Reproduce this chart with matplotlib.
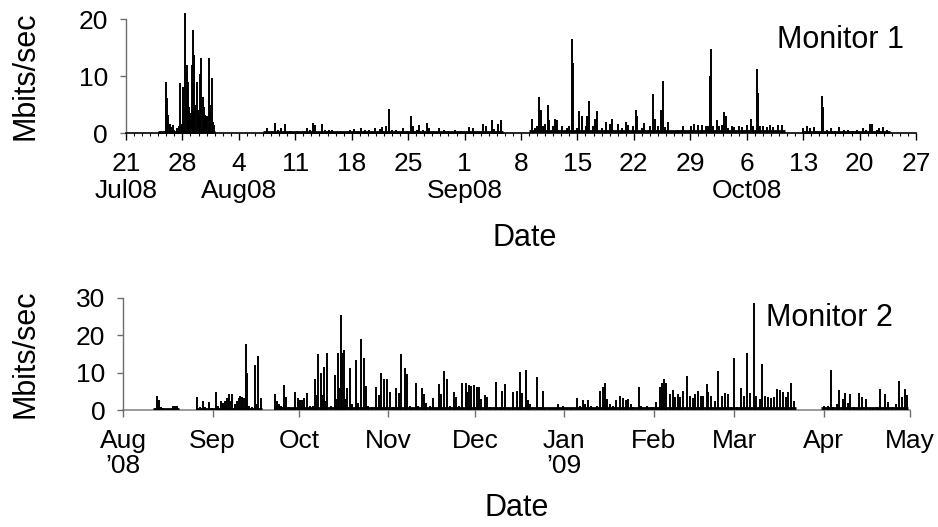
import matplotlib
matplotlib.use("Agg")
import matplotlib.pyplot as plt
import matplotlib.dates as mdates
import matplotlib.ticker as mticker
from datetime import datetime

plt.rcParams['font.family'] = ['Liberation Sans', 'DejaVu Sans']

# ---------------- Monitor 1 (days since 21 Jul 2008) ----------------
m1_origin = datetime(2008, 7, 21)
m1_end = datetime(2008, 10, 27)
m1_days = [
    4.93, 5.05, 5.25, 5.46, 5.6, 5.79, 6.0, 6.29, 6.54, 6.70, 6.9, 7.11, 7.32, 7.53,
    7.65, 7.8, 7.94, 8.05, 8.15, 8.35, 8.47, 8.6, 8.77, 8.9, 9.05, 9.18, 9.34, 9.51,
    9.65, 9.76, 9.93, 10.1, 10.26, 10.4, 10.63, 10.8, 10.92,
    17.45, 18.5, 18.8, 19.2, 19.7, 20.4, 21.2, 22.4, 22.8, 23.2, 23.5, 24.3, 24.7,
    25.2, 25.6, 26.5, 27.8, 28.3, 29.2, 29.6, 30.2, 30.9, 31.5, 31.8, 32.3, 32.6,
    33.0, 33.5, 34.3, 34.8, 35.3, 35.6, 36.1, 36.4, 36.8, 37.3, 37.6, 38.2, 38.8,
    39.4, 40.0, 40.8, 41.6, 42.5, 43.0, 43.6, 44.3, 44.6, 45.4, 45.6, 46.2, 46.5,
    50.33, 50.74, 51.03, 51.28, 51.49, 51.78, 52.03, 52.32, 52.52, 52.94, 53.23,
    53.44, 54.06, 54.68, 55.00, 55.33, 55.42, 55.92, 56.20, 56.54, 57.07, 57.16,
    57.41, 57.90, 58.15, 58.40, 59.02, 59.55, 60.05, 60.34, 61.08, 61.50, 62.03,
    62.32, 62.94, 63.24, 63.44, 63.98, 64.27, 65.01, 65.42, 65.63, 66.04, 66.34,
    66.59, 66.87, 67.28, 67.70, 68.53, 69.07, 70.06, 70.47, 71.01, 71.50, 71.96,
    72.25, 72.50, 72.58, 72.87, 73.29, 73.61, 73.98, 74.23, 74.44, 74.73, 75.15,
    75.43, 76.09, 76.39, 77.01, 77.54, 77.75, 78.33, 78.37, 78.66, 79.07, 79.49,
    79.90, 80.23, 80.93, 81.35,
    84.04, 84.45, 84.86, 85.40, 85.69, 86.31, 86.51, 87.01, 87.47, 87.97, 88.50,
    89.08, 89.62, 90.16, 90.65, 91.40, 91.81, 92.31, 92.56, 93.14, 93.46, 93.96,
    94.38,
]
m1_mbps = [
    8.9, 6.1, 3.2, 1.6, 1.0, 1.4, 0.6, 0.8, 1.3, 8.7, 1.5, 8.0, 21.0, 11.9,
    9.0, 4.5, 2.1, 3.5, 12.0, 18.1, 13.7, 5.0, 9.0, 4.0, 3.0, 10.4, 13.1, 6.3,
    4.5, 3.2, 3.0, 3.0, 13.1, 5.0, 9.7, 2.0, 1.4,
    0.8, 1.8, 0.5, 0.8, 1.5, 0.4, 0.3, 0.8, 0.5, 1.8, 1.4, 1.5, 0.6,
    0.6, 0.5, 0.2, 0.6, 0.7, 0.9, 0.5, 0.6, 0.8, 0.7, 1.0, 1.3, 4.2,
    0.5, 0.6, 0.9, 0.4, 2.9, 1.3, 0.6, 1.4, 0.5, 1.8, 0.8, 0.4, 0.9,
    0.5, 0.3, 0.5, 0.3, 1.0, 0.8, 0.4, 1.5, 1.3, 2.3, 0.7, 1.6, 2.3,
    2.4, 0.9, 1.3, 6.4, 4.0, 1.3, 1.6, 4.9, 2.2, 1.3, 2.4,
    2.2, 1.3, 0.9, 1.2, 16.5, 12.2, 0.9, 3.9, 2.9, 1.3, 2.9,
    5.7, 1.3, 2.4, 3.8, 0.8, 1.9, 1.6, 2.4, 1.5, 0.9, 1.9,
    1.4, 1.3, 4.0, 2.9, 0.9, 1.7, 1.3, 6.8, 2.5, 1.3, 4.0,
    9.1, 1.0, 1.9, 0.3, 0.6, 1.2, 1.3, 1.6, 1.4, 1.4, 1.3,
    1.3, 10.0, 14.7, 1.3, 2.2, 1.3, 1.4, 3.7, 2.9, 0.9, 1.3,
    1.0, 1.3, 1.0, 1.4, 2.4, 1.3, 11.2, 7.0, 1.3, 1.3, 1.1,
    1.4, 1.1, 1.4, 1.4,
    0.9, 1.3, 0.8, 1.0, 0.3, 6.5, 4.6, 0.6, 0.9, 0.3, 1.0,
    0.6, 0.5, 0.3, 0.6, 0.9, 0.6, 1.5, 1.6, 0.6, 0.8, 1.1,
    0.6,
]
# periods with traffic recorded: start day, end day, background level
m1_span_start = [4.0, 17.0, 50.0, 83.8]
m1_span_end = [11.0, 46.8, 81.7, 94.8]
m1_span_level = [0.2, 0.25, 0.3, 0.2]

# ---------------- Monitor 2 (days since 1 Aug 2008) ----------------
m2_origin = datetime(2008, 8, 1)
m2_end = datetime(2009, 5, 1)
m2_days = [
    11.7, 12.4, 13.1, 13.8, 15.5, 17.2, 18.0, 18.7,
    25.5, 26.6, 27.6, 28.4, 29.6, 30.8, 32.3, 32.8, 33.8, 34.6, 35.3, 35.9, 36.7,
    37.4, 37.8, 38.6, 39.4, 40.0, 40.5, 41.2, 41.8, 42.6, 42.9, 43.6, 44.6, 45.6,
    46.0, 46.6, 47.7,
    52.5, 53.4, 54.2, 54.8, 55.6, 56.5, 57.5, 58.5, 59.5, 60.6, 61.4, 62.1, 62.6,
    63.6, 64.7, 65.8, 66.5, 67.2, 67.6, 68.5, 68.9, 69.5, 70.0, 70.7, 72.0, 73.3,
    73.9, 74.5, 75.0, 75.4, 75.9, 76.5, 77.1, 77.6, 78.5, 79.3, 80.6, 81.4, 82.4,
    83.4, 84.3, 84.9, 86.3, 87.6, 88.6, 89.5, 90.5, 91.5, 92.7, 93.7, 94.7, 95.6,
    96.4, 97.6, 98.5, 99.4, 100.3, 101.4, 102.2, 103.7, 104.5, 105.2, 106.4, 107.5,
    108.5, 109.5, 110.3, 111.2, 112.4, 113.5, 114.6, 115.6, 116.4, 117.4, 118.8,
    119.3, 120.0, 120.7, 121.6, 122.6, 123.5, 124.3, 125.6, 126.3, 127.4, 129.5,
    130.7, 131.5, 132.6, 134.0, 135.3, 136.5, 137.6, 138.5, 139.7, 140.5, 141.3,
    143.6, 144.5, 145.5, 146.3, 148.0, 149.7, 151.0, 152.5, 153.9, 155.3, 157.3,
    158.4, 159.6, 160.3, 161.3, 162.2, 163.3, 164.3, 165.3, 166.3, 167.1, 167.8,
    168.8, 169.8, 171.1, 172.3, 173.4, 174.6, 175.2, 176.1, 176.9, 178.9, 179.8,
    181.6, 183.3, 185.0, 186.2, 187.0, 187.7, 188.5, 189.7, 190.6, 191.4, 192.5,
    193.3, 194.2, 195.6, 196.5, 197.7, 198.3, 199.4, 200.3, 201.2, 202.4, 202.9,
    204.1, 205.2, 206.4, 207.6, 208.7, 209.9, 210.8, 211.8, 212.8, 214.5, 215.4,
    216.6, 217.6, 218.7, 219.7, 220.9, 221.6, 222.6, 223.7, 224.9, 225.8, 226.8,
    228.0, 228.9, 230.1, 230.8, 231.8, 232.7,
    243.0, 244.5, 245.5, 246.3, 247.5, 248.4, 249.6, 250.6, 251.4, 252.3, 253.4,
    255.2, 256.3, 257.6, 259.0, 260.2, 261.4, 262.7, 264.2, 265.3, 266.6, 268.0,
    269.2, 270.3, 271.4, 272.0,
]
m2_mbps = [
    3.7, 2.7, 0.9, 0.5, 0.4, 1.2, 1.2, 1.2,
    3.4, 0.8, 2.5, 0.9, 2.2, 0.6, 4.7, 1.2, 2.5, 1.9, 2.5, 3.1, 4.2,
    2.5, 4.4, 1.6, 2.5, 3.1, 3.7, 3.4, 3.1, 17.5, 10.0, 1.2, 0.8, 12.0,
    1.6, 14.5, 3.2,
    4.2, 2.5, 1.6, 1.2, 6.8, 3.5, 0.7, 0.5, 4.9, 3.2, 2.8, 2.8, 3.1,
    4.6, 1.2, 1.2, 8.4, 4.0, 14.9, 9.9, 4.0, 11.6, 2.5, 15.1, 1.0, 9.3,
    3.0, 15.3, 6.0, 25.5, 15.3, 16.0, 3.0, 6.0, 11.1, 1.5, 13.3, 2.0, 19.1,
    13.8, 6.3, 1.0, 0.8, 6.2, 4.1, 9.9, 8.2, 8.2, 4.7, 0.8, 6.0, 4.6,
    14.9, 11.1, 9.5, 1.2, 0.6, 7.3, 1.2, 5.8, 4.2, 1.8, 1.0, 3.2,
    0.6, 6.9, 4.4, 10.5, 8.3, 1.2, 4.7, 3.6, 1.0, 7.1, 7.2,
    4.7, 6.7, 6.4, 6.7, 6.2, 6.1, 2.9, 4.0, 3.6, 0.8, 7.4,
    0.9, 5.0, 6.9, 0.5, 4.9, 5.2, 10.2, 4.6, 10.8, 2.7, 1.5,
    8.7, 0.9, 5.2, 0.5, 0.6, 0.4, 1.5, 1.0, 0.6, 0.5, 3.1,
    1.2, 2.7, 1.5, 2.7, 1.0, 0.6, 1.0, 5.2, 6.1, 7.1, 3.0,
    1.5, 1.2, 2.7, 3.8, 3.2, 2.7, 3.0, 1.5, 0.7, 6.2, 1.2,
    1.2, 0.8, 2.2, 6.2, 7.1, 8.4, 7.1, 4.4, 5.4, 3.6, 4.4,
    3.6, 5.0, 9.1, 3.8, 3.2, 4.4, 5.0, 3.8, 3.8, 6.9, 4.7,
    3.8, 2.5, 10.3, 3.8, 4.6, 4.4, 0.9, 13.9, 0.7, 5.8, 3.8,
    15.1, 4.6, 28.7, 3.8, 2.9, 12.3, 3.8, 3.6, 3.1, 3.6, 5.6,
    5.3, 4.7, 3.6, 4.7, 7.1, 2.5,
    1.2, 1.2, 10.8, 0.9, 1.5, 5.3, 2.9, 4.6, 2.0, 4.4, 0.9,
    4.6, 3.6, 2.9, 0.6, 0.6, 0.9, 5.5, 4.4, 2.2, 0.8, 1.5,
    7.8, 3.6, 5.5, 4.0,
]
m2_span_start = [10.3, 25.4, 52.3, 242.2]
m2_span_end = [19.3, 48.2, 233.6, 272.3]
m2_span_level = [0.3, 0.4, 0.5, 0.5]

SPIKE_LW = 1.4
BASE_LW = 2.0
TICK_FS = 19
LABEL_FS = 22


def to_num(origin, offsets):
    base = mdates.date2num(origin)
    return [base + d for d in offsets]


def draw_series(ax, origin, days, mbps, s0, s1, lvl, clip=True):
    x0 = to_num(origin, s0)
    x1 = to_num(origin, s1)
    ax.hlines(lvl, x0, x1, colors='black', linewidth=BASE_LW, clip_on=clip)
    ax.vlines(to_num(origin, days), 0, mbps, colors='black',
              linewidth=SPIKE_LW, clip_on=clip)


fig = plt.figure(figsize=(9.38, 5.27), dpi=100)
ax1 = fig.add_axes([126 / 938, 1 - 133 / 527, 790 / 938, 114 / 527])
ax2 = fig.add_axes([123.3 / 938, 1 - 410 / 527, 786.7 / 938, 112.3 / 527])

for ax in (ax1, ax2):
    for side in ('top', 'right'):
        ax.spines[side].set_visible(False)
    ax.spines['left'].set_color('#6e6e6e')
    ax.spines['left'].set_linewidth(1.0)
    ax.tick_params(axis='y', direction='out', length=4, width=1.0,
                   color='#6e6e6e', labelsize=TICK_FS, pad=9)

# ---- top panel ----
draw_series(ax1, m1_origin, m1_days, m1_mbps,
            m1_span_start, m1_span_end, m1_span_level, clip=False)
ax1.set_xlim(mdates.date2num(m1_origin), mdates.date2num(m1_end))
ax1.set_ylim(0, 20)
ax1.set_yticks([0, 10, 20])
ax1.spines['bottom'].set_color('black')
ax1.spines['bottom'].set_linewidth(1.2)
ax1.xaxis.set_major_locator(mdates.WeekdayLocator(byweekday=mdates.MO))
ax1.xaxis.set_minor_locator(mdates.DayLocator())


def week_label(x, pos):
    d = mdates.num2date(x)
    s = str(d.day)
    if d.day <= 7 or pos == 0:
        s += '\n' + d.strftime('%b%y')
    return s


ax1.xaxis.set_major_formatter(mticker.FuncFormatter(week_label))
ax1.tick_params(axis='x', which='major', direction='out', length=5, width=1.0,
                labelsize=TICK_FS, pad=8.5)
ax1.tick_params(axis='x', which='minor', direction='out', length=2.5, width=0.8)
fig.text(525 / 938, 1 - 238 / 527, 'Date', ha='center', va='center',
         fontsize=LABEL_FS)
fig.text(840 / 938, 1 - 40 / 527, 'Monitor 1', ha='center', va='center',
         fontsize=LABEL_FS)

# ---- bottom panel ----
draw_series(ax2, m2_origin, m2_days, m2_mbps,
            m2_span_start, m2_span_end, m2_span_level)
ax2.set_xlim(mdates.date2num(m2_origin), mdates.date2num(m2_end))
ax2.set_ylim(0, 30)
ax2.set_yticks([0, 10, 20, 30])
ax2.spines['bottom'].set_color('#8a8a8a')
ax2.spines['bottom'].set_linewidth(1.2)
ax2.spines['bottom'].set_zorder(0)
ax2.xaxis.set_major_locator(mdates.MonthLocator())


def month_label(x, pos):
    d = mdates.num2date(x)
    s = d.strftime('%b')
    if d.month in (1, 8):
        s += '\n\u2019' + d.strftime('%y')
    return s


ax2.xaxis.set_major_formatter(mticker.FuncFormatter(month_label))
ax2.tick_params(axis='x', direction='out', length=5, width=1.0, color='#6e6e6e',
                labelsize=TICK_FS, pad=9)
fig.text(517 / 938, 1 - 508 / 527, 'Date', ha='center', va='center',
         fontsize=LABEL_FS)
fig.text(829 / 938, 1 - 318 / 527, 'Monitor 2', ha='center', va='center',
         fontsize=LABEL_FS)

fig.text(25 / 938, 1 - 76 / 527, 'Mbits/sec', rotation=90, ha='center',
         va='center', fontsize=LABEL_FS)
fig.text(25 / 938, 1 - 354 / 527, 'Mbits/sec', rotation=90, ha='center',
         va='center', fontsize=LABEL_FS)

fig.canvas.draw()
for lbl in ax1.get_xticklabels():
    lbl.set_linespacing(1.15)
for lbl in ax2.get_xticklabels():
    lbl.set_linespacing(1.05)

fig.savefig('out.png', dpi=100)
